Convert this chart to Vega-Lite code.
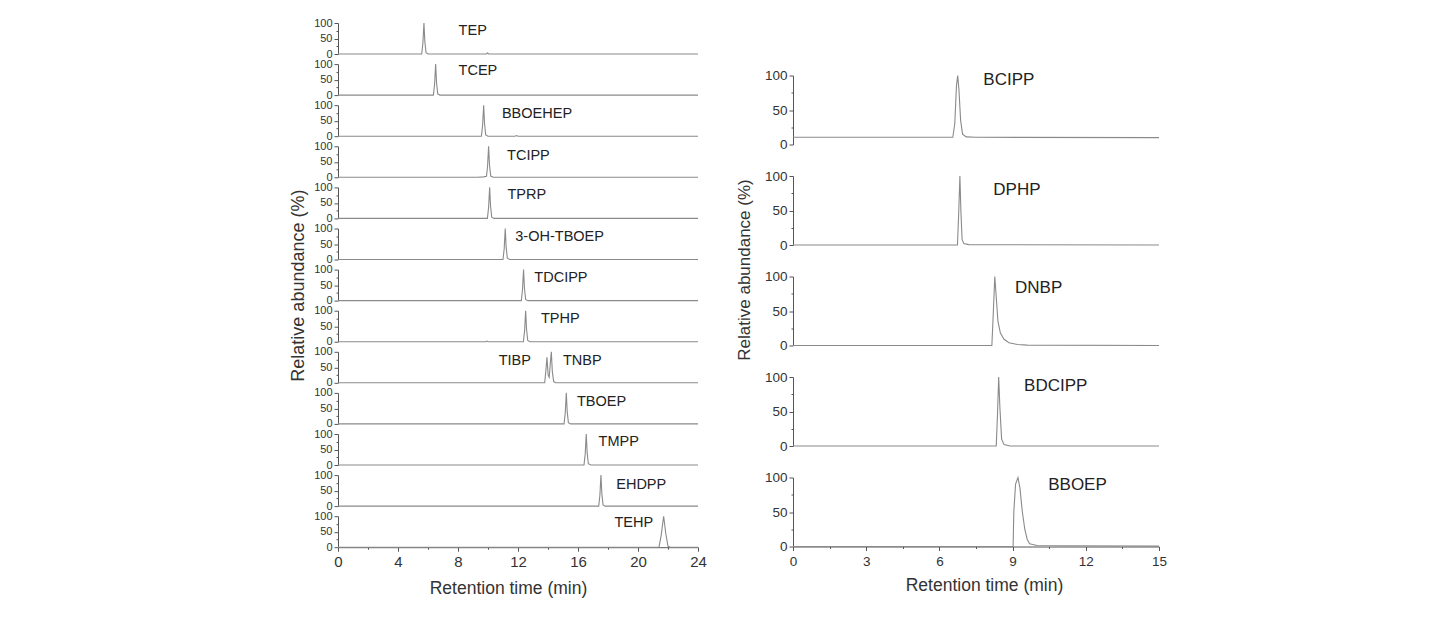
{
"$schema": "https://vega.github.io/schema/vega-lite/v6.json",
"background": "white",
"padding": {"left": 289, "top": 17, "right": 10, "bottom": 10},
"config": {
  "font": "Liberation Sans",
  "view": {"stroke": null},
  "axis": {"grid": false, "domainColor": "#555", "tickColor": "#555", "labelColor": "#333", "titleColor": "#333", "titleFontWeight": "normal", "domainWidth": 1, "tickWidth": 1},
  "line": {"color": "#8a8a8a", "strokeWidth": 1.1},
  "text": {"align": "left", "baseline": "middle", "color": "#222"}
},
"datasets": {
  "L": [
    {"s":"TEP","t":0,"y":0},{"s":"TEP","t":5.58,"y":0},{"s":"TEP","t":5.66,"y":35},{"s":"TEP","t":5.73,"y":100},{"s":"TEP","t":5.79,"y":40},{"s":"TEP","t":5.87,"y":4},{"s":"TEP","t":6.0,"y":0},{"s":"TEP","t":9.9,"y":0},{"s":"TEP","t":9.97,"y":3},{"s":"TEP","t":10.05,"y":0},{"s":"TEP","t":24,"y":0},
    {"s":"TCEP","t":0,"y":0},{"s":"TCEP","t":6.36,"y":0},{"s":"TCEP","t":6.44,"y":35},{"s":"TCEP","t":6.51,"y":100},{"s":"TCEP","t":6.57,"y":40},{"s":"TCEP","t":6.65,"y":4},{"s":"TCEP","t":6.8,"y":0},{"s":"TCEP","t":24,"y":0},
    {"s":"BBOEHEP","t":0,"y":0},{"s":"BBOEHEP","t":9.56,"y":0},{"s":"BBOEHEP","t":9.64,"y":35},{"s":"BBOEHEP","t":9.71,"y":100},{"s":"BBOEHEP","t":9.77,"y":40},{"s":"BBOEHEP","t":9.85,"y":4},{"s":"BBOEHEP","t":10.0,"y":0},{"s":"BBOEHEP","t":11.8,"y":0},{"s":"BBOEHEP","t":11.9,"y":2},{"s":"BBOEHEP","t":12.0,"y":0},{"s":"BBOEHEP","t":24,"y":0},
    {"s":"TCIPP","t":0,"y":0},{"s":"TCIPP","t":9.3,"y":0},{"s":"TCIPP","t":9.7,"y":1.5},{"s":"TCIPP","t":9.9,"y":3},{"s":"TCIPP","t":9.97,"y":35},{"s":"TCIPP","t":10.04,"y":100},{"s":"TCIPP","t":10.1,"y":40},{"s":"TCIPP","t":10.18,"y":4},{"s":"TCIPP","t":10.35,"y":0},{"s":"TCIPP","t":24,"y":0},
    {"s":"TPRP","t":0,"y":0},{"s":"TPRP","t":9.96,"y":0},{"s":"TPRP","t":10.04,"y":35},{"s":"TPRP","t":10.11,"y":100},{"s":"TPRP","t":10.17,"y":40},{"s":"TPRP","t":10.25,"y":4},{"s":"TPRP","t":10.4,"y":0},{"s":"TPRP","t":24,"y":0},
    {"s":"3-OH-TBOEP","t":0,"y":0},{"s":"3-OH-TBOEP","t":11.0,"y":0},{"s":"3-OH-TBOEP","t":11.08,"y":35},{"s":"3-OH-TBOEP","t":11.15,"y":100},{"s":"3-OH-TBOEP","t":11.21,"y":40},{"s":"3-OH-TBOEP","t":11.29,"y":4},{"s":"3-OH-TBOEP","t":11.45,"y":0},{"s":"3-OH-TBOEP","t":24,"y":0},
    {"s":"TDCIPP","t":0,"y":0},{"s":"TDCIPP","t":12.22,"y":0},{"s":"TDCIPP","t":12.3,"y":35},{"s":"TDCIPP","t":12.37,"y":100},{"s":"TDCIPP","t":12.43,"y":40},{"s":"TDCIPP","t":12.51,"y":4},{"s":"TDCIPP","t":12.65,"y":0},{"s":"TDCIPP","t":24,"y":0},
    {"s":"TPHP","t":0,"y":0},{"s":"TPHP","t":9.85,"y":0},{"s":"TPHP","t":9.93,"y":2},{"s":"TPHP","t":10.0,"y":0},{"s":"TPHP","t":12.36,"y":0},{"s":"TPHP","t":12.44,"y":35},{"s":"TPHP","t":12.51,"y":100},{"s":"TPHP","t":12.57,"y":40},{"s":"TPHP","t":12.65,"y":4},{"s":"TPHP","t":12.8,"y":0},{"s":"TPHP","t":24,"y":0},
    {"s":"TNBP","t":0,"y":0},{"s":"TNBP","t":13.78,"y":0},{"s":"TNBP","t":13.86,"y":40},{"s":"TNBP","t":13.93,"y":82},{"s":"TNBP","t":14.01,"y":25},{"s":"TNBP","t":14.08,"y":18},{"s":"TNBP","t":14.15,"y":60},{"s":"TNBP","t":14.22,"y":100},{"s":"TNBP","t":14.29,"y":35},{"s":"TNBP","t":14.38,"y":4},{"s":"TNBP","t":14.5,"y":0},{"s":"TNBP","t":24,"y":0},
    {"s":"TBOEP","t":0,"y":0},{"s":"TBOEP","t":15.07,"y":0},{"s":"TBOEP","t":15.15,"y":35},{"s":"TBOEP","t":15.22,"y":100},{"s":"TBOEP","t":15.28,"y":40},{"s":"TBOEP","t":15.36,"y":4},{"s":"TBOEP","t":15.5,"y":0},{"s":"TBOEP","t":24,"y":0},
    {"s":"TMPP","t":0,"y":0},{"s":"TMPP","t":16.4,"y":0},{"s":"TMPP","t":16.48,"y":35},{"s":"TMPP","t":16.55,"y":100},{"s":"TMPP","t":16.61,"y":40},{"s":"TMPP","t":16.69,"y":4},{"s":"TMPP","t":16.85,"y":0},{"s":"TMPP","t":24,"y":0},
    {"s":"EHDPP","t":0,"y":0},{"s":"EHDPP","t":17.38,"y":0},{"s":"EHDPP","t":17.46,"y":35},{"s":"EHDPP","t":17.53,"y":100},{"s":"EHDPP","t":17.59,"y":40},{"s":"EHDPP","t":17.67,"y":4},{"s":"EHDPP","t":17.8,"y":0},{"s":"EHDPP","t":24,"y":0},
    {"s":"TEHP","t":0,"y":0},{"s":"TEHP","t":21.4,"y":0},{"s":"TEHP","t":21.55,"y":40},{"s":"TEHP","t":21.71,"y":100},{"s":"TEHP","t":21.85,"y":45},{"s":"TEHP","t":22.0,"y":3},{"s":"TEHP","t":22.15,"y":0},{"s":"TEHP","t":24,"y":0}
  ],
  "R": [
    {"s":"BCIPP","t":0,"y":10.5},{"s":"BCIPP","t":6.55,"y":10.5},{"s":"BCIPP","t":6.63,"y":30},{"s":"BCIPP","t":6.7,"y":85},{"s":"BCIPP","t":6.75,"y":100},{"s":"BCIPP","t":6.8,"y":80},{"s":"BCIPP","t":6.87,"y":35},{"s":"BCIPP","t":6.95,"y":15},{"s":"BCIPP","t":7.1,"y":11},{"s":"BCIPP","t":7.5,"y":10.5},{"s":"BCIPP","t":15,"y":10},
    {"s":"DPHP","t":0,"y":0},{"s":"DPHP","t":6.74,"y":0},{"s":"DPHP","t":6.79,"y":45},{"s":"DPHP","t":6.84,"y":100},{"s":"DPHP","t":6.88,"y":50},{"s":"DPHP","t":6.93,"y":8},{"s":"DPHP","t":7.0,"y":2},{"s":"DPHP","t":7.2,"y":0.5},{"s":"DPHP","t":15,"y":0},
    {"s":"DNBP","t":0,"y":0},{"s":"DNBP","t":8.15,"y":0},{"s":"DNBP","t":8.2,"y":40},{"s":"DNBP","t":8.27,"y":100},{"s":"DNBP","t":8.33,"y":70},{"s":"DNBP","t":8.4,"y":35},{"s":"DNBP","t":8.5,"y":18},{"s":"DNBP","t":8.65,"y":9},{"s":"DNBP","t":8.85,"y":4},{"s":"DNBP","t":9.2,"y":1.5},{"s":"DNBP","t":9.6,"y":0.5},{"s":"DNBP","t":15,"y":0},
    {"s":"BDCIPP","t":0,"y":0},{"s":"BDCIPP","t":8.33,"y":0},{"s":"BDCIPP","t":8.38,"y":45},{"s":"BDCIPP","t":8.43,"y":100},{"s":"BDCIPP","t":8.48,"y":55},{"s":"BDCIPP","t":8.55,"y":10},{"s":"BDCIPP","t":8.65,"y":2},{"s":"BDCIPP","t":8.9,"y":0},{"s":"BDCIPP","t":15,"y":0},
    {"s":"BBOEP","t":0,"y":0},{"s":"BBOEP","t":9.02,"y":0},{"s":"BBOEP","t":9.05,"y":50},{"s":"BBOEP","t":9.12,"y":90},{"s":"BBOEP","t":9.22,"y":100},{"s":"BBOEP","t":9.3,"y":85},{"s":"BBOEP","t":9.4,"y":50},{"s":"BBOEP","t":9.5,"y":25},{"s":"BBOEP","t":9.6,"y":10},{"s":"BBOEP","t":9.7,"y":4},{"s":"BBOEP","t":10.0,"y":1.5},{"s":"BBOEP","t":11.0,"y":1},{"s":"BBOEP","t":15,"y":0.5}
  ],
  "labs": [
    {"s":"TEP","label":"TEP","t":8.04,"y":75},
    {"s":"TCEP","label":"TCEP","t":8.04,"y":78},
    {"s":"BBOEHEP","label":"BBOEHEP","t":10.93,"y":72},
    {"s":"TCIPP","label":"TCIPP","t":11.27,"y":69},
    {"s":"TPRP","label":"TPRP","t":11.3,"y":75},
    {"s":"3-OH-TBOEP","label":"3-OH-TBOEP","t":11.82,"y":72},
    {"s":"TDCIPP","label":"TDCIPP","t":13.09,"y":72},
    {"s":"TPHP","label":"TPHP","t":13.53,"y":74},
    {"s":"TNBP","label":"TIBP","t":10.71,"y":70},
    {"s":"TNBP","label":"TNBP","t":15.0,"y":70},
    {"s":"TBOEP","label":"TBOEP","t":15.93,"y":70},
    {"s":"TMPP","label":"TMPP","t":17.37,"y":75},
    {"s":"EHDPP","label":"EHDPP","t":18.55,"y":67},
    {"s":"TEHP","label":"TEHP","t":18.43,"y":79},
    {"s":"BCIPP","label":"BCIPP","t":7.8,"y":94},
    {"s":"DPHP","label":"DPHP","t":8.21,"y":80},
    {"s":"DNBP","label":"DNBP","t":9.1,"y":84},
    {"s":"BDCIPP","label":"BDCIPP","t":9.47,"y":87},
    {"s":"BBOEP","label":"BBOEP","t":10.46,"y":89}
  ]
},
"hconcat": [
  {"vconcat": [
    {"width":360,"height":31,"encoding":{"x":{"field":"t","type":"quantitative","scale":{"domain":[0,24]},"axis":null},"y":{"field":"y","type":"quantitative","scale":{"domain":[0,100]},"axis":{"values":[0,25,50,75,100],"labelExpr":"datum.value % 50 === 0 ? datum.label : ''","tickSize":{"condition":{"test":"datum.value % 50 === 0","value":4},"value":2},"title":null,"labelFontSize":11,"labelPadding":2,"labelFlush":false}}},
     "layer":[{"data":{"name":"L"},"transform":[{"filter":"datum.s === 'TEP'"}],"mark":"line"},{"data":{"name":"labs"},"transform":[{"filter":"datum.s === 'TEP'"}],"mark":{"type":"text","fontSize":14.5},"encoding":{"text":{"field":"label"}}}]},
    {"width":360,"height":31,"encoding":{"x":{"field":"t","type":"quantitative","scale":{"domain":[0,24]},"axis":null},"y":{"field":"y","type":"quantitative","scale":{"domain":[0,100]},"axis":{"values":[0,25,50,75,100],"labelExpr":"datum.value % 50 === 0 ? datum.label : ''","tickSize":{"condition":{"test":"datum.value % 50 === 0","value":4},"value":2},"title":null,"labelFontSize":11,"labelPadding":2,"labelFlush":false}}},
     "layer":[{"data":{"name":"L"},"transform":[{"filter":"datum.s === 'TCEP'"}],"mark":"line"},{"data":{"name":"labs"},"transform":[{"filter":"datum.s === 'TCEP'"}],"mark":{"type":"text","fontSize":14.5},"encoding":{"text":{"field":"label"}}}]},
    {"width":360,"height":31,"encoding":{"x":{"field":"t","type":"quantitative","scale":{"domain":[0,24]},"axis":null},"y":{"field":"y","type":"quantitative","scale":{"domain":[0,100]},"axis":{"values":[0,25,50,75,100],"labelExpr":"datum.value % 50 === 0 ? datum.label : ''","tickSize":{"condition":{"test":"datum.value % 50 === 0","value":4},"value":2},"title":null,"labelFontSize":11,"labelPadding":2,"labelFlush":false}}},
     "layer":[{"data":{"name":"L"},"transform":[{"filter":"datum.s === 'BBOEHEP'"}],"mark":"line"},{"data":{"name":"labs"},"transform":[{"filter":"datum.s === 'BBOEHEP'"}],"mark":{"type":"text","fontSize":14.5},"encoding":{"text":{"field":"label"}}}]},
    {"width":360,"height":31,"encoding":{"x":{"field":"t","type":"quantitative","scale":{"domain":[0,24]},"axis":null},"y":{"field":"y","type":"quantitative","scale":{"domain":[0,100]},"axis":{"values":[0,25,50,75,100],"labelExpr":"datum.value % 50 === 0 ? datum.label : ''","tickSize":{"condition":{"test":"datum.value % 50 === 0","value":4},"value":2},"title":null,"labelFontSize":11,"labelPadding":2,"labelFlush":false}}},
     "layer":[{"data":{"name":"L"},"transform":[{"filter":"datum.s === 'TCIPP'"}],"mark":"line"},{"data":{"name":"labs"},"transform":[{"filter":"datum.s === 'TCIPP'"}],"mark":{"type":"text","fontSize":14.5},"encoding":{"text":{"field":"label"}}}]},
    {"width":360,"height":31,"encoding":{"x":{"field":"t","type":"quantitative","scale":{"domain":[0,24]},"axis":null},"y":{"field":"y","type":"quantitative","scale":{"domain":[0,100]},"axis":{"values":[0,25,50,75,100],"labelExpr":"datum.value % 50 === 0 ? datum.label : ''","tickSize":{"condition":{"test":"datum.value % 50 === 0","value":4},"value":2},"title":null,"labelFontSize":11,"labelPadding":2,"labelFlush":false}}},
     "layer":[{"data":{"name":"L"},"transform":[{"filter":"datum.s === 'TPRP'"}],"mark":"line"},{"data":{"name":"labs"},"transform":[{"filter":"datum.s === 'TPRP'"}],"mark":{"type":"text","fontSize":14.5},"encoding":{"text":{"field":"label"}}}]},
    {"width":360,"height":31,"encoding":{"x":{"field":"t","type":"quantitative","scale":{"domain":[0,24]},"axis":null},"y":{"field":"y","type":"quantitative","scale":{"domain":[0,100]},"axis":{"values":[0,25,50,75,100],"labelExpr":"datum.value % 50 === 0 ? datum.label : ''","tickSize":{"condition":{"test":"datum.value % 50 === 0","value":4},"value":2},"title":null,"labelFontSize":11,"labelPadding":2,"labelFlush":false}}},
     "layer":[{"data":{"name":"L"},"transform":[{"filter":"datum.s === '3-OH-TBOEP'"}],"mark":"line"},{"data":{"name":"labs"},"transform":[{"filter":"datum.s === '3-OH-TBOEP'"}],"mark":{"type":"text","fontSize":14.5},"encoding":{"text":{"field":"label"}}}]},
    {"width":360,"height":31,"encoding":{"x":{"field":"t","type":"quantitative","scale":{"domain":[0,24]},"axis":null},"y":{"field":"y","type":"quantitative","scale":{"domain":[0,100]},"axis":{"values":[0,25,50,75,100],"labelExpr":"datum.value % 50 === 0 ? datum.label : ''","tickSize":{"condition":{"test":"datum.value % 50 === 0","value":4},"value":2},"title":"Relative abundance (%)","titleFontSize":18,"titlePadding":6,"labelFontSize":11,"labelPadding":2,"labelFlush":false}}},
     "layer":[{"data":{"name":"L"},"transform":[{"filter":"datum.s === 'TDCIPP'"}],"mark":"line"},{"data":{"name":"labs"},"transform":[{"filter":"datum.s === 'TDCIPP'"}],"mark":{"type":"text","fontSize":14.5},"encoding":{"text":{"field":"label"}}}]},
    {"width":360,"height":31,"encoding":{"x":{"field":"t","type":"quantitative","scale":{"domain":[0,24]},"axis":null},"y":{"field":"y","type":"quantitative","scale":{"domain":[0,100]},"axis":{"values":[0,25,50,75,100],"labelExpr":"datum.value % 50 === 0 ? datum.label : ''","tickSize":{"condition":{"test":"datum.value % 50 === 0","value":4},"value":2},"title":null,"labelFontSize":11,"labelPadding":2,"labelFlush":false}}},
     "layer":[{"data":{"name":"L"},"transform":[{"filter":"datum.s === 'TPHP'"}],"mark":"line"},{"data":{"name":"labs"},"transform":[{"filter":"datum.s === 'TPHP'"}],"mark":{"type":"text","fontSize":14.5},"encoding":{"text":{"field":"label"}}}]},
    {"width":360,"height":31,"encoding":{"x":{"field":"t","type":"quantitative","scale":{"domain":[0,24]},"axis":null},"y":{"field":"y","type":"quantitative","scale":{"domain":[0,100]},"axis":{"values":[0,25,50,75,100],"labelExpr":"datum.value % 50 === 0 ? datum.label : ''","tickSize":{"condition":{"test":"datum.value % 50 === 0","value":4},"value":2},"title":null,"labelFontSize":11,"labelPadding":2,"labelFlush":false}}},
     "layer":[{"data":{"name":"L"},"transform":[{"filter":"datum.s === 'TNBP'"}],"mark":"line"},{"data":{"name":"labs"},"transform":[{"filter":"datum.s === 'TNBP'"}],"mark":{"type":"text","fontSize":14.5},"encoding":{"text":{"field":"label"}}}]},
    {"width":360,"height":31,"encoding":{"x":{"field":"t","type":"quantitative","scale":{"domain":[0,24]},"axis":null},"y":{"field":"y","type":"quantitative","scale":{"domain":[0,100]},"axis":{"values":[0,25,50,75,100],"labelExpr":"datum.value % 50 === 0 ? datum.label : ''","tickSize":{"condition":{"test":"datum.value % 50 === 0","value":4},"value":2},"title":null,"labelFontSize":11,"labelPadding":2,"labelFlush":false}}},
     "layer":[{"data":{"name":"L"},"transform":[{"filter":"datum.s === 'TBOEP'"}],"mark":"line"},{"data":{"name":"labs"},"transform":[{"filter":"datum.s === 'TBOEP'"}],"mark":{"type":"text","fontSize":14.5},"encoding":{"text":{"field":"label"}}}]},
    {"width":360,"height":31,"encoding":{"x":{"field":"t","type":"quantitative","scale":{"domain":[0,24]},"axis":null},"y":{"field":"y","type":"quantitative","scale":{"domain":[0,100]},"axis":{"values":[0,25,50,75,100],"labelExpr":"datum.value % 50 === 0 ? datum.label : ''","tickSize":{"condition":{"test":"datum.value % 50 === 0","value":4},"value":2},"title":null,"labelFontSize":11,"labelPadding":2,"labelFlush":false}}},
     "layer":[{"data":{"name":"L"},"transform":[{"filter":"datum.s === 'TMPP'"}],"mark":"line"},{"data":{"name":"labs"},"transform":[{"filter":"datum.s === 'TMPP'"}],"mark":{"type":"text","fontSize":14.5},"encoding":{"text":{"field":"label"}}}]},
    {"width":360,"height":31,"encoding":{"x":{"field":"t","type":"quantitative","scale":{"domain":[0,24]},"axis":null},"y":{"field":"y","type":"quantitative","scale":{"domain":[0,100]},"axis":{"values":[0,25,50,75,100],"labelExpr":"datum.value % 50 === 0 ? datum.label : ''","tickSize":{"condition":{"test":"datum.value % 50 === 0","value":4},"value":2},"title":null,"labelFontSize":11,"labelPadding":2,"labelFlush":false}}},
     "layer":[{"data":{"name":"L"},"transform":[{"filter":"datum.s === 'EHDPP'"}],"mark":"line"},{"data":{"name":"labs"},"transform":[{"filter":"datum.s === 'EHDPP'"}],"mark":{"type":"text","fontSize":14.5},"encoding":{"text":{"field":"label"}}}]},
    {"width":360,"height":31,"encoding":{"x":{"field":"t","type":"quantitative","scale":{"domain":[0,24]},"axis":{"values":[0,2,4,6,8,10,12,14,16,18,20,22,24],"labelExpr":"datum.value % 4 === 0 ? datum.label : ''","tickSize":{"condition":{"test":"datum.value % 4 === 0","value":4},"value":2},"labelFontSize":15,"labelPadding":3,"labelFlush":false,"title":"Retention time (min)","titleFontSize":17.5,"titlePadding":10,"titleX":170}},"y":{"field":"y","type":"quantitative","scale":{"domain":[0,100]},"axis":{"values":[0,25,50,75,100],"labelExpr":"datum.value % 50 === 0 ? datum.label : ''","tickSize":{"condition":{"test":"datum.value % 50 === 0","value":4},"value":2},"title":null,"labelFontSize":11,"labelPadding":2,"labelFlush":false}}},
     "layer":[{"data":{"name":"L"},"transform":[{"filter":"datum.s === 'TEHP'"}],"mark":"line"},{"data":{"name":"labs"},"transform":[{"filter":"datum.s === 'TEHP'"}],"mark":{"type":"text","fontSize":14.5},"encoding":{"text":{"field":"label"}}}]}
  ], "spacing": 10.1, "bounds": "flush"},
  {"vconcat": [
    {"width":366,"height":20.8,"data":{"values":[]},"mark":"point"},
    {"width":366,"height":69,"encoding":{"x":{"field":"t","type":"quantitative","scale":{"domain":[0,15]},"axis":null},"y":{"field":"y","type":"quantitative","scale":{"domain":[0,100]},"axis":{"values":[0,25,50,75,100],"labelExpr":"datum.value % 50 === 0 ? datum.label : ''","tickSize":{"condition":{"test":"datum.value % 50 === 0","value":4},"value":2},"title":null,"labelFontSize":13.5,"labelPadding":2,"labelFlush":false}}},
     "layer":[{"data":{"name":"R"},"transform":[{"filter":"datum.s === 'BCIPP'"}],"mark":"line"},{"data":{"name":"labs"},"transform":[{"filter":"datum.s === 'BCIPP'"}],"mark":{"type":"text","fontSize":17},"encoding":{"text":{"field":"label"}}}]},
    {"width":366,"height":69,"encoding":{"x":{"field":"t","type":"quantitative","scale":{"domain":[0,15]},"axis":null},"y":{"field":"y","type":"quantitative","scale":{"domain":[0,100]},"axis":{"values":[0,25,50,75,100],"labelExpr":"datum.value % 50 === 0 ? datum.label : ''","tickSize":{"condition":{"test":"datum.value % 50 === 0","value":4},"value":2},"title":null,"labelFontSize":13.5,"labelPadding":2,"labelFlush":false}}},
     "layer":[{"data":{"name":"R"},"transform":[{"filter":"datum.s === 'DPHP'"}],"mark":"line"},{"data":{"name":"labs"},"transform":[{"filter":"datum.s === 'DPHP'"}],"mark":{"type":"text","fontSize":17},"encoding":{"text":{"field":"label"}}}]},
    {"width":366,"height":69,"encoding":{"x":{"field":"t","type":"quantitative","scale":{"domain":[0,15]},"axis":null},"y":{"field":"y","type":"quantitative","scale":{"domain":[0,100]},"axis":{"values":[0,25,50,75,100],"labelExpr":"datum.value % 50 === 0 ? datum.label : ''","tickSize":{"condition":{"test":"datum.value % 50 === 0","value":4},"value":2},"title":"Relative abundance (%)","titleFontSize":17,"titlePadding":11,"titleY":-7,"labelFontSize":13.5,"labelPadding":2,"labelFlush":false}}},
     "layer":[{"data":{"name":"R"},"transform":[{"filter":"datum.s === 'DNBP'"}],"mark":"line"},{"data":{"name":"labs"},"transform":[{"filter":"datum.s === 'DNBP'"}],"mark":{"type":"text","fontSize":17},"encoding":{"text":{"field":"label"}}}]},
    {"width":366,"height":69,"encoding":{"x":{"field":"t","type":"quantitative","scale":{"domain":[0,15]},"axis":null},"y":{"field":"y","type":"quantitative","scale":{"domain":[0,100]},"axis":{"values":[0,25,50,75,100],"labelExpr":"datum.value % 50 === 0 ? datum.label : ''","tickSize":{"condition":{"test":"datum.value % 50 === 0","value":4},"value":2},"title":null,"labelFontSize":13.5,"labelPadding":2,"labelFlush":false}}},
     "layer":[{"data":{"name":"R"},"transform":[{"filter":"datum.s === 'BDCIPP'"}],"mark":"line"},{"data":{"name":"labs"},"transform":[{"filter":"datum.s === 'BDCIPP'"}],"mark":{"type":"text","fontSize":17},"encoding":{"text":{"field":"label"}}}]},
    {"width":366,"height":69,"encoding":{"x":{"field":"t","type":"quantitative","scale":{"domain":[0,15]},"axis":{"values":[0,1.5,3,4.5,6,7.5,9,10.5,12,13.5,15],"labelExpr":"datum.value % 3 === 0 ? datum.label : ''","tickSize":{"condition":{"test":"datum.value % 3 === 0","value":4},"value":2},"labelFontSize":13.5,"labelPadding":4,"labelFlush":false,"title":"Retention time (min)","titleFontSize":17.5,"titlePadding":8,"titleX":191}},"y":{"field":"y","type":"quantitative","scale":{"domain":[0,100]},"axis":{"values":[0,25,50,75,100],"labelExpr":"datum.value % 50 === 0 ? datum.label : ''","tickSize":{"condition":{"test":"datum.value % 50 === 0","value":4},"value":2},"title":null,"labelFontSize":13.5,"labelPadding":2,"labelFlush":false}}},
     "layer":[{"data":{"name":"R"},"transform":[{"filter":"datum.s === 'BBOEP'"}],"mark":"line"},{"data":{"name":"labs"},"transform":[{"filter":"datum.s === 'BBOEP'"}],"mark":{"type":"text","fontSize":17},"encoding":{"text":{"field":"label"}}}]}
  ], "spacing": 31.5, "bounds": "flush"}
], "spacing": 28, "bounds": "full"
}
